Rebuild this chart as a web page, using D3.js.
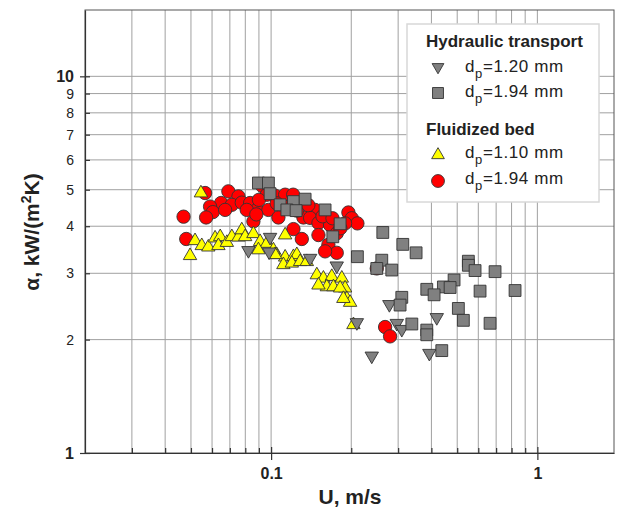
<!DOCTYPE html>
<html><head><meta charset="utf-8">
<script src="https://cdn.jsdelivr.net/npm/d3@7"></script>
<style>
html,body{margin:0;padding:0;background:#fff;}
svg{display:block;font-family:Arial,"Liberation Sans",sans-serif;}
</style></head>
<body><svg id="chart" width="618" height="507"></svg>
<script>
// ---- data: [U (m/s), alpha kW/(m2K)] ----
const hydro120 = [[0.0991,3.74],[0.0822,3.45],[0.0983,3.42],[0.1401,3.29],[0.1764,3.14],[0.2099,2.22],[0.2781,2.48],[0.4190,2.29],[0.2965,2.21],[0.3096,2.13],[0.3930,1.84],[0.2388,1.81]];
const hydro194 = [[0.0896,5.21],[0.0977,5.21],[0.0991,4.88],[0.1081,4.56],[0.1213,4.65],[0.1342,4.72],[0.1146,4.42],[0.1241,4.40],[0.1595,4.42],[0.1816,4.06],[0.1705,3.75],[0.2109,3.32],[0.2627,3.85],[0.3123,3.58],[0.3504,3.40],[0.2604,3.25],[0.2494,3.09],[0.2839,3.06],[0.5506,3.23],[0.5506,3.15],[0.5835,3.05],[0.6936,3.03],[0.4866,2.88],[0.4436,2.76],[0.4702,2.75],[0.3843,2.72],[0.4094,2.63],[0.6092,2.69],[0.8245,2.70],[0.3096,2.59],[0.3051,2.47],[0.5050,2.42],[0.5273,2.25],[0.3377,2.20],[0.6643,2.21],[0.3843,2.12],[0.3843,2.06],[0.4375,1.87]];
const fluid110 = [[0.0545,4.90],[0.0496,3.34],[0.0518,3.66],[0.0549,3.55],[0.0581,3.52],[0.0616,3.72],[0.0644,3.75],[0.0634,3.55],[0.0682,3.62],[0.0712,3.75],[0.0754,3.74],[0.0776,3.91],[0.0799,3.75],[0.0858,3.82],[0.0909,3.64],[0.0964,3.60],[0.1129,3.79],[0.1050,3.36],[0.1129,3.31],[0.1213,3.32],[0.1249,3.36],[0.1112,3.16],[0.1196,3.19],[0.1285,3.22],[0.1362,3.22],[0.1485,2.97],[0.1572,2.91],[0.1690,2.94],[0.1619,2.76],[0.1714,2.76],[0.1843,2.91],[0.1896,2.74],[0.1924,2.57],[0.1980,2.51],[0.2038,2.19],[0.1020,3.46],[0.0896,3.46],[0.1506,2.79],[0.1816,2.74],[0.1868,2.57],[0.1035,3.36]];
const fluid194 = [[0.0469,4.24],[0.0480,3.70],[0.0565,4.90],[0.0691,4.95],[0.0754,4.80],[0.0649,4.61],[0.0712,4.56],[0.0776,4.62],[0.0834,4.61],[0.0590,4.51],[0.0604,4.36],[0.0672,4.42],[0.0570,4.22],[0.0858,4.12],[0.0884,4.42],[0.0810,4.42],[0.0925,5.12],[0.0964,4.85],[0.1035,4.82],[0.1129,4.85],[0.1210,4.85],[0.0977,4.42],[0.1065,4.22],[0.1322,4.22],[0.1463,4.42],[0.1401,4.21],[0.1506,4.08],[0.1665,4.03],[0.1951,4.35],[0.2009,4.20],[0.2109,4.07],[0.1506,3.79],[0.1764,3.83],[0.1213,3.93],[0.1304,3.70],[0.1641,3.57],[0.1764,3.40],[0.1595,3.43],[0.1896,4.07],[0.2494,3.09],[0.2680,2.16],[0.2798,2.04],[0.0900,4.70],[0.1050,4.60],[0.1150,4.50],[0.1250,4.40],[0.0880,4.30],[0.1380,4.55],[0.1560,4.25],[0.1820,3.95],[0.1700,4.20]];

const xMinorTicks = [0.03,0.04,0.05,0.06,0.07,0.08,0.09,0.2,0.3,0.4,0.5,0.6,0.7,0.8,0.9];
const xMajorTicks = [0.1,1];
const xTickLabels = ["0.1","1"];
const yTicks = [1,2,3,4,5,6,7,8,9,10];
const yTickLabels = ["1","2","3","4","5","6","7","8","9","10"];
const xTitle = "U, m/s";
const legendGroups = ["Hydraulic transport","Fluidized bed"];
const legendLabels = ["=1.20 mm","=1.94 mm","=1.10 mm","=1.94 mm"];

// ---- layout ----
const L = 85, R = 614, T = 10, B = 453;
const svg = d3.select("#chart");
const x = d3.scaleLog().domain([0.02, 1.94]).range([L, R]);
const y = d3.scaleLog().domain([1, 15]).range([B, T]);

// grid
const grid = svg.append("g");
grid.selectAll("line.gx").data(xMinorTicks.concat(xMajorTicks)).join("line")
  .attr("x1", d => x(d)).attr("x2", d => x(d)).attr("y1", T).attr("y2", B)
  .attr("stroke", "#a0a0a0").attr("stroke-width", 1);
grid.selectAll("line.gy").data(yTicks.filter(d => d > 1)).join("line")
  .attr("x1", L).attr("x2", R).attr("y1", d => y(d)).attr("y2", d => y(d))
  .attr("stroke", "#a0a0a0").attr("stroke-width", 1);

// frame
svg.append("rect").attr("x", L).attr("y", T).attr("width", R - L).attr("height", B - T)
  .attr("fill", "none").attr("stroke", "#555").attr("stroke-width", 1);

// y axis
const yAxis = d3.axisLeft(y).tickValues(yTicks)
  .tickFormat((d, i) => yTickLabels[i]).tickSizeInner(-5).tickSizeOuter(0).tickPadding(11);
const gy = svg.append("g").attr("transform", `translate(${L},0)`).call(yAxis);
gy.select(".domain").attr("stroke", "#333").attr("stroke-width", 1.2);
gy.selectAll(".tick line").attr("stroke", "#333").attr("stroke-width", 1.2);
gy.selectAll(".tick text").attr("fill", "#222")
  .attr("font-size", d => (d === 1 || d === 10) ? 16 : 14)
  .attr("font-weight", d => (d === 1 || d === 10) ? "bold" : "normal")
  .attr("font-family", "Arial, 'Liberation Sans', sans-serif");
gy.selectAll(".tick").filter(d => d === 1 || d === 10).append("line")
  .attr("x1", -5).attr("x2", 0).attr("stroke", "#333").attr("stroke-width", 1.2);

// x axis minor
const xAxisMinor = d3.axisBottom(x).tickValues(xMinorTicks).tickFormat("")
  .tickSizeInner(-5).tickSizeOuter(0);
const gxm = svg.append("g").attr("transform", `translate(0,${B})`).call(xAxisMinor);
gxm.select(".domain").attr("stroke", "#333").attr("stroke-width", 1.2);
gxm.selectAll(".tick line").attr("stroke", "#333").attr("stroke-width", 1.2);
// x axis major
const xAxisMajor = d3.axisBottom(x).tickValues(xMajorTicks)
  .tickFormat((d, i) => xTickLabels[i]).tickSizeInner(7).tickSizeOuter(0).tickPadding(8);
const gxM = svg.append("g").attr("transform", `translate(0,${B})`).call(xAxisMajor);
gxM.select(".domain").remove();
gxM.selectAll(".tick line").attr("y1", -6).attr("stroke", "#333").attr("stroke-width", 1.2);
gxM.selectAll(".tick text").attr("fill", "#222").attr("font-size", 16).attr("font-weight", "bold")
  .attr("font-family", "Arial, 'Liberation Sans', sans-serif");

// titles
svg.append("text").attr("x", 350).attr("y", 504).attr("text-anchor", "middle")
  .attr("font-size", 21).attr("font-weight", "bold").attr("fill", "#222").text(xTitle);
const yt = svg.append("text").attr("transform", "translate(39,232) rotate(-90)")
  .attr("text-anchor", "middle").attr("font-size", 21).attr("font-weight", "bold").attr("fill", "#222");
yt.append("tspan").text("α, kW/(m");
yt.append("tspan").attr("dy", -8).attr("font-size", 14).text("2");
yt.append("tspan").attr("dy", 8).text("K)");

// markers
const sym = (type, size) => d3.symbol().type(type).size(size)();
const series = [
  {data: fluid194, path: sym(d3.symbolCircle, 140), fill: "#ff0000", rot: 0},
  {data: fluid110, path: sym(d3.symbolTriangle, 78), fill: "#ffff00", rot: 0},
  {data: hydro120, path: sym(d3.symbolTriangle, 78), fill: "#808080", rot: 180},
  {data: hydro194, path: sym(d3.symbolSquare, 140), fill: "#808080", rot: 0}
];
const gm = svg.append("g");
series.forEach(s => {
  gm.append("g").selectAll("path").data(s.data).join("path")
    .attr("d", s.path)
    .attr("transform", d => `translate(${x(d[0])},${y(d[1])}) rotate(${s.rot})`)
    .attr("fill", s.fill).attr("stroke", "#333").attr("stroke-width", 0.9);
});

// legend
const lg = svg.append("g");
lg.append("rect").attr("x", 407).attr("y", 24).attr("width", 192).attr("height", 178)
  .attr("fill", "#fff").attr("stroke", "#d8d8d8").attr("stroke-width", 1.5);
lg.append("text").attr("x", 426).attr("y", 47).attr("font-size", 17).attr("font-weight", "bold")
  .attr("fill", "#222").text(legendGroups[0]);
lg.append("text").attr("x", 426).attr("y", 135).attr("font-size", 17).attr("font-weight", "bold")
  .attr("fill", "#222").text(legendGroups[1]);
const legendRows = [
  {path: sym(d3.symbolTriangle, 60), fill: "#808080", rot: 180, sy: 67, ty: 72},
  {path: sym(d3.symbolSquare, 120), fill: "#808080", rot: 0, sy: 93, ty: 97},
  {path: sym(d3.symbolTriangle, 70), fill: "#ffff00", rot: 0, sy: 155, ty: 158},
  {path: sym(d3.symbolCircle, 130), fill: "#ff0000", rot: 0, sy: 181, ty: 184}
];
legendRows.forEach((r, i) => {
  lg.append("path").attr("d", r.path)
    .attr("transform", `translate(438,${r.sy}) rotate(${r.rot})`)
    .attr("fill", r.fill).attr("stroke", "#333").attr("stroke-width", 0.9);
  const t = lg.append("text").attr("x", 465).attr("y", r.ty).attr("font-size", 17)
    .attr("letter-spacing", 0.6).attr("fill", "#222");
  t.append("tspan").text("d");
  t.append("tspan").attr("dy", 6).attr("font-size", 13).text("p");
  t.append("tspan").attr("dy", -6).text(legendLabels[i]);
});
</script></body></html>
